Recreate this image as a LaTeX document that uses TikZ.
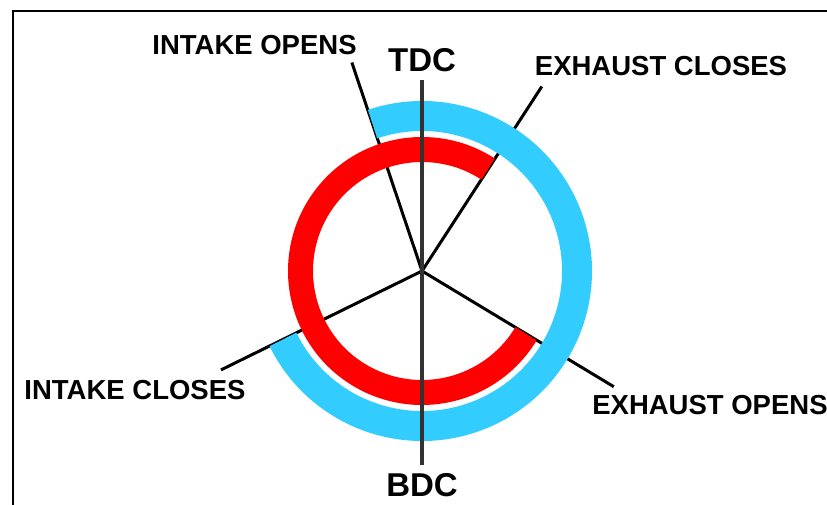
\documentclass[tikz,border=0pt]{standalone}
\usepackage{fontspec}
\setmainfont{Liberation Sans}
\usepackage{xcolor}
\definecolor{ringblue}{RGB}{51,204,255}
\definecolor{ringred}{RGB}{255,0,0}
\definecolor{deadgray}{RGB}{50,50,50}
\usepackage{tikz}
\usetikzlibrary{positioning}
\tikzset{
  spoke/.style={draw=black, line width=3pt},
  deadline/.style={draw=deadgray, line width=4pt},
  outerring/.style={draw=ringblue, line width=30pt},
  innerring/.style={draw=ringred, line width=25pt},
  tag/.style={font=\fontsize{27.5}{30}\selectfont\bfseries, inner sep=0pt},
  dctag/.style={font=\fontsize{33}{36}\selectfont\bfseries, inner sep=0pt},
}

\begin{document}
\begin{tikzpicture}[x=1pt, y=1pt]
  \useasboundingbox (-422,-233) rectangle (405,271);
  \clip (-422,-233) rectangle (405,271);
  % frame
  \draw[line width=2pt] (-409.3,-300) rectangle (460,260);

  \coordinate (hub) at (0,0);
  \coordinate (ioend) at (108.6:220);
  \coordinate (ecend) at (57:220);
  \coordinate (icend) at (206.2:224);
  \coordinate (eoend) at (-31.1:224);
  \coordinate (tdcend) at (0,191);
  \coordinate (bdcend) at (0,-194);

  % spokes
  \draw[spoke] (hub) -- (ioend);
  \draw[spoke] (hub) -- (ecend);
  \draw[spoke] (hub) -- (icend);
  \draw[spoke] (hub) -- (eoend);

  % rings
  \draw[outerring] (-153.8:155) arc[start angle=-153.8, end angle=108.6, radius=155];
  \draw[innerring] (57:121.5) arc[start angle=57, end angle=328.9, radius=121.5];

  \draw[deadline] (tdcend) -- (hub) -- (bdcend);

  % labels
  \node[dctag, above=8pt of tdcend] (tdc) {TDC};
  \node[dctag, below=8pt of bdcend] (bdc) {BDC};
  \node[tag] (io) at (-167.5,226) {INTAKE OPENS};
  \node[tag] (ec) at (239,205) {EXHAUST CLOSES};
  \node[tag] (ic) at (-287,-119) {INTAKE CLOSES};
  \node[tag] (eo) at (288,-134) {EXHAUST OPENS};
\end{tikzpicture}
\end{document}
